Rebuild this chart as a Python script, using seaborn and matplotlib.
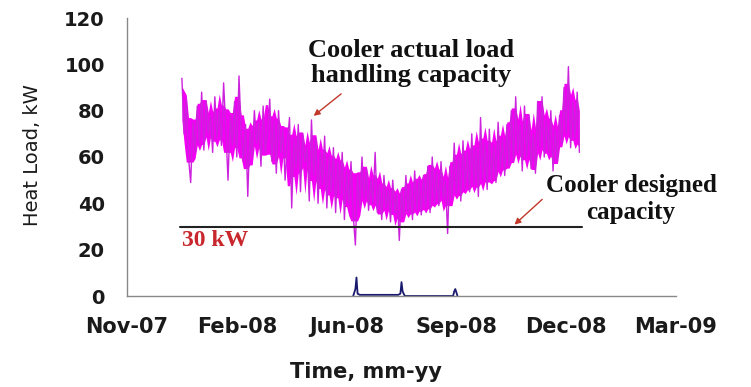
import numpy as np
import pandas as pd
import matplotlib
matplotlib.use("Agg")
import matplotlib.pyplot as plt
import matplotlib.dates as mdates
import seaborn as sns


# measured cooler load, read every 2 days from 3 Jan 2008
LOAD_START = "2008-01-03"
load_kw = [
    94, 70, 85, 60, 49, 75, 62, 82, 66, 88,
    63, 84, 70, 78, 62, 86, 68, 80, 65, 92,
    72, 50, 78, 65, 84, 60, 95, 70, 58, 74,
    43, 72, 60, 80, 66, 75, 56, 82, 62, 70,
    85, 58, 76, 53, 80, 62, 72, 50, 66, 77,
    38, 68, 55, 74, 45, 70, 58, 64, 41, 76,
    52, 68, 40, 62, 48, 69, 38, 60, 45, 64,
    36, 58, 44, 62, 33, 54, 40, 58, 35, 22,
    52, 38, 60, 42, 55, 37, 50, 40, 62, 36,
    48, 33, 52, 38, 46, 32, 50, 36, 44, 24,
    46, 34, 52, 36, 48, 33, 54, 37, 50, 35,
    52, 38, 56, 36, 60, 40, 54, 39, 58, 42,
    50, 27, 56, 42, 66, 44, 60, 41, 67, 46,
    62, 45, 70, 48, 64, 43, 77, 50, 66, 46,
    72, 50, 65, 49, 75, 55, 68, 52, 74, 56,
    80, 58, 86, 62, 74, 54, 82, 60, 78, 55,
    70, 53, 84, 64, 86, 60, 76, 62, 80, 54,
    72, 58, 78, 66, 90, 70, 99, 64, 84, 68,
    88, 62,
]

# small excess load spikes near zero
spike_dates = ["2008-06-07", "2008-06-09", "2008-06-10", "2008-06-11", "2008-06-13",
               "2008-06-20", "2008-06-27", "2008-07-04", "2008-07-11", "2008-07-18",
               "2008-07-20", "2008-07-21", "2008-07-22", "2008-07-24",
               "2008-09-06", "2008-09-07", "2008-09-08", "2008-09-10"]
spike_kw = [0, 3, 8, 1, 0.5, 0.5, 0.5, 0.5, 0.5, 0.5, 1, 6, 2, 0, 0, 2, 3, 0]

design_kw = 30
design_span = ["2008-01-01", "2009-01-01"]

tick_dates = ["2007-11-14", "2008-02-22", "2008-06-01", "2008-09-09", "2008-12-18", "2009-03-28"]
y_ticks = [0, 20, 40, 60, 80, 100, 120]

load_df = pd.DataFrame({
    "date": pd.date_range(LOAD_START, periods=len(load_kw), freq="2D"),
    "kw": load_kw,
})
# the dense core of the trace
roll = load_df["kw"].rolling(5, center=True, min_periods=1)
load_df["lo"] = roll.quantile(0.2)
load_df["hi"] = roll.quantile(0.8)
spike_df = pd.DataFrame({"date": pd.to_datetime(spike_dates), "kw": spike_kw})

sns.set_style("white")
W, H = 751, 387
fig = plt.figure(figsize=(W / 100, H / 100), dpi=100)
ax = fig.add_axes([127 / W, 1 - 296 / H, (676 - 127) / W, (296 - 18) / H])

ax.fill_between(load_df["date"], load_df["lo"], load_df["hi"], color="#f400f4", lw=0)
sns.lineplot(data=load_df, x="date", y="kw", ax=ax, color="#cc22dd", linewidth=1.0)
sns.lineplot(data=spike_df, x="date", y="kw", ax=ax, color="#1a1a6e", linewidth=1.3)
ax.plot(pd.to_datetime(design_span), [design_kw, design_kw], color="#222222", linewidth=1.5)

ax.set_xlim(pd.Timestamp(tick_dates[0]), pd.Timestamp(tick_dates[-1]))
ax.set_ylim(y_ticks[0], y_ticks[-1])
ax.set_xticks(pd.to_datetime(tick_dates))
ax.xaxis.set_major_formatter(mdates.DateFormatter("%b-%y"))
ax.set_yticks(y_ticks)
ax.set_xlabel("")
ax.set_ylabel("")

for s in ["top", "right"]:
    ax.spines[s].set_visible(False)
for s in ["left", "bottom"]:
    ax.spines[s].set_color("#888888")
    ax.spines[s].set_linewidth(1.0)
ax.tick_params(axis="both", direction="out", length=6, color="#888888", width=1.0)
ax.tick_params(axis="y", pad=10)
ax.tick_params(axis="x", pad=9)
for lab in ax.get_xticklabels():
    lab.set_fontfamily("DejaVu Sans")
    lab.set_fontweight("bold")
    lab.set_fontsize(15)
    lab.set_color("#1a1a1a")
for lab in ax.get_yticklabels():
    lab.set_fontfamily("DejaVu Sans")
    lab.set_fontweight("bold")
    lab.set_fontsize(14)
    lab.set_color("#1a1a1a")

fig.text(32 / W, 1 - 155 / H, "Heat Load, kW", rotation=90, ha="center", va="center",
         fontsize=14, family="DejaVu Sans", color="#1a1a1a")
fig.text(290 / W, 1 - 372 / H, "Time, mm-yy", ha="left", va="center",
         fontsize=15, family="DejaVu Sans", fontweight="bold", color="#1a1a1a")

serif = "Liberation Serif"
fig.text(411 / W, 1 - 63 / H, "Cooler actual load\nhandling capacity", ha="center", va="center",
         fontsize=19, family=serif, fontweight="bold", color="#111111", linespacing=1.15)
fig.text(631 / W, 1 - 199 / H, "Cooler designed\ncapacity", ha="center", va="center",
         fontsize=18, family=serif, fontweight="bold", color="#111111", linespacing=1.2)
fig.text(182 / W, 1 - 240 / H, "30 kW", ha="left", va="center",
         fontsize=17, family=serif, fontweight="bold", color="#c8282d")

arrow = dict(arrowstyle="-|>", color="#c0392b", lw=1.0, mutation_scale=9)
ax.annotate("", xy=(pd.Timestamp("2008-04-30"), 77), xytext=(pd.Timestamp("2008-05-29"), 88),
            arrowprops=arrow)
ax.annotate("", xy=(pd.Timestamp("2008-10-30"), 30), xytext=(pd.Timestamp("2008-11-28"), 42.5),
            arrowprops=arrow)

fig.savefig("out.png", dpi=100)
